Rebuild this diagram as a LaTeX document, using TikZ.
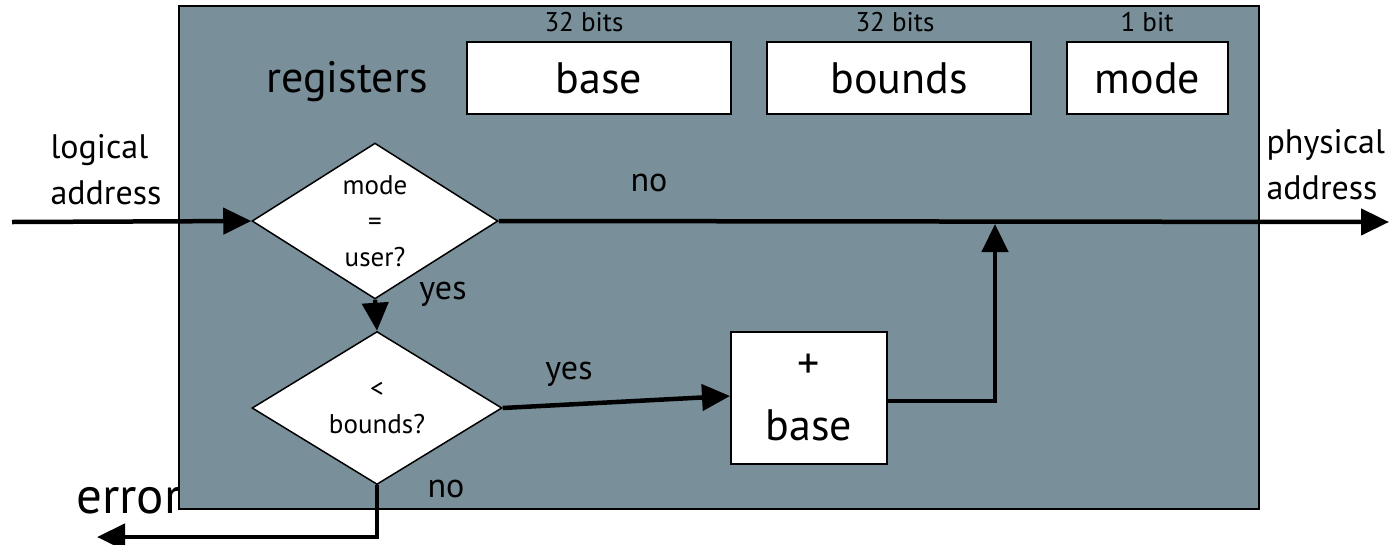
\documentclass[tikz,border=0pt]{standalone}
\usepackage{fontspec}
\setmainfont{PT Sans}
\usetikzlibrary{shapes.geometric,arrows.meta,calc}
\definecolor{panel}{RGB}{121,143,154}
\begin{document}
\begin{tikzpicture}[x=1pt,y=-1pt,
  big/.style={font=\fontsize{44}{62}\selectfont},
  mid/.style={font=\fontsize{34}{46}\selectfont},
  small/.style={font=\fontsize{27}{36}\selectfont},
  regbox/.style={draw, line width=2pt, fill=white, inner sep=0pt,
    minimum height=72pt, big},
  decision/.style={diamond, draw, line width=1.5pt, fill=white, inner sep=0pt,
    small, align=center},
  flow/.style={line width=4.5pt, -{Triangle[length=28pt,width=26pt]}},
]
\useasboundingbox (0,0) rectangle (1399,544);

% the error label sits partly behind the panel
\node[font=\fontsize{51}{56}\selectfont, anchor=base west, inner sep=0pt]
  (err) at (76,513) {error};

% hardware panel
\node[draw, line width=2.5pt, fill=panel, minimum width=1080pt,
  minimum height=503pt, inner sep=0pt] (panel) at (719,257.5) {};

% registers
\node[big] (reglabel) at (347,82) {registers};
\node[regbox, minimum width=264pt] (base) at (599,78) {base};
\node[regbox, minimum width=264pt] (bounds) at (899,78) {bounds};
\node[regbox, minimum width=161pt] (mode) at (1147.5,78) {mode};
\node[small] (wbase) at (584,22) {32 bits};
\node[small] (wbounds) at (895,22) {32 bits};
\node[small] (wmode) at (1147,22) {1 bit};

% decisions and adder
\node[decision, minimum width=246pt, minimum height=154pt] (d1) at (375,221)
  {mode\\=\\user?};
\node[decision, minimum width=250pt, minimum height=153pt] (d2) at (377,408)
  {<\\bounds?};
\node[draw, line width=2pt, fill=white, inner sep=0pt, minimum width=156pt,
  minimum height=132pt, big, align=center] (plus) at (809,398) {+\\base};

% external labels
\node[mid, anchor=west, align=left] (lin) at (47,170) {logical\\address};
\node[mid, anchor=west, align=left] (lout) at (1263,165) {physical\\address};
\node[mid] (no1) at (649,183) {no};
\node[mid] (yes1) at (443,294) {yes};
\node[mid] (yes2) at (569,374) {yes};
\node[mid] (no2) at (446,489) {no};

% connectors
\coordinate (src) at (12,222);
\coordinate (dst) at (1389,222);
\coordinate (join) at (995,224);
\coordinate (errout) at (97,537);
\draw[flow] (src) -- (d1.west);
\draw[flow] (d1.east) -- (dst);
\draw[flow] (d1.south) -- (d2.north);
\draw[flow] (d2.east) -- ($(plus.west)+(0,-2)$);
\draw[flow] ($(plus.east)+(0,3)$) -| (join);
\draw[flow] (d2.south) |- (errout);
\end{tikzpicture}
\end{document}
